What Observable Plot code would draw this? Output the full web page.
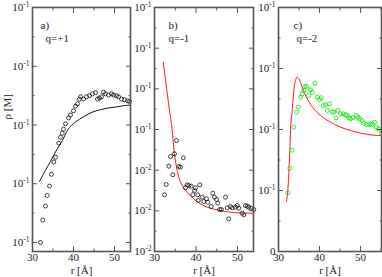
<!DOCTYPE html>
<html><head><meta charset="utf-8">
<script src="https://cdn.jsdelivr.net/npm/d3@7"></script>
<script src="https://cdn.jsdelivr.net/npm/@observablehq/plot@0.6"></script>
<style>
body{margin:0;background:#fff;}
#chart{position:relative;width:382px;height:277px;overflow:hidden;background:#fff;}
#chart svg{position:absolute;top:0;overflow:visible;}
#chart svg, #chart svg text, #chart svg g{font-family:"Liberation Serif","Times New Roman",serif !important;}
</style></head><body><div id="chart"></div>
<script>
// ---------- Panel a) q=+1 ----------
const aPtsR = [31.95,32.51,33.17,33.59,34.15,34.63,35.2,35.61,36.41,36.83,37.24,37.56,38.05,38.78,39.27,40.0,40.49,40.98,41.46,41.71,42.44,43.17,43.9,44.63,45.37,45.85,46.34,46.83,47.32,47.8,48.54,49.27,49.76,50.49,50.98,51.71,52.44,53.17,53.66];
const aPtsRho = [0.100,0.138,0.162,0.180,0.196,0.216,0.237,0.245,0.269,0.279,0.286,0.293,0.302,0.312,0.317,0.324,0.332,0.336,0.344,0.348,0.344,0.348,0.350,0.353,0.355,0.344,0.346,0.348,0.356,0.353,0.351,0.353,0.351,0.350,0.348,0.344,0.343,0.341,0.340];
const aLineR = [31.71,33.17,34.39,35.61,37.32,38.54,40.49,42.44,44.63,46.59,48.54,50.73,52.44,53.9];
const aLineRho = [0.204,0.223,0.238,0.254,0.274,0.291,0.305,0.314,0.322,0.326,0.329,0.331,0.333,0.334];
const aYTicks = [0.1,0.2,0.3,0.4,0.5];
const aYMinor = [0.15,0.25,0.35,0.45];
const aYLabels = ["10^-1","10^-1","10^-1","10^-1","10^-1"];

// ---------- Panel b) q=-1 (units of 10^-2 M) ----------
const bPtsR = [32.41,32.82,33.45,33.86,34.41,34.82,35.30,35.86,36.27,36.92,37.47,37.88,38.27,38.84,39.23,39.64,39.88,40.43,40.92,40.53,41.49,41.88,42.53,42.84,43.66,44.05,44.46,44.94,45.25,45.73,46.14,47.11,47.52,47.90,48.31,48.72,49.52,49.93,50.31,51.13,51.52,51.93,52.34,52.72,53.30,53.93];
const bPtsRho = [1.394,1.647,2.097,2.336,1.886,2.402,2.729,2.090,2.073,2.304,1.566,1.640,1.623,1.606,1.394,1.500,1.566,1.394,1.640,1.254,1.335,1.229,1.296,1.212,1.106,1.433,1.335,1.279,1.188,1.033,1.033,1.335,1.075,0.804,1.106,1.075,1.089,1.131,1.065,0.942,0.902,1.131,1.114,1.089,1.065,1.033];
const bLineR = [32.10,32.9,33.6,34.27,34.7,35.30,35.86,36.67,37.88,39.47,41.08,42.70,45.11,47.52,49.93,52.34,53.86];
const bLineRho = [4.655,4.02,3.48,2.975,2.483,2.073,1.827,1.623,1.458,1.296,1.173,1.089,1.025,0.976,0.952,0.942,0.940];
const bYTicks = [0,1,2,3,4,5,6];
const bYMinor = [0.5,1.5,2.5,3.5,4.5,5.5];
const bYLabels = ["10^-2","10^-2","10^-2","10^-1","10^-1","10^-1","10^-1"];

// ---------- Panel c) q=-2 (units of 10^-1 M) ----------
const cPtsR = [32.27,32.76,33.24,33.73,34.39,34.80,35.37,35.78,36.17,36.41,36.83,37.39,37.80,38.22,38.85,39.44,40.0,40.41,40.90,41.46,41.88,42.44,43.10,43.49,44.07,44.46,45.12,45.78,46.34,46.76,47.15,47.56,48.12,48.95,49.34,49.83,50.41,50.80,51.39,52.02,52.44,52.85,53.41,53.83,54.32,55.05];
const cPtsRho = [0.962,1.366,1.661,2.038,2.284,2.366,2.530,2.585,2.639,2.705,2.705,2.557,2.651,2.611,2.759,2.530,2.492,2.520,2.393,2.405,2.311,2.421,2.295,2.284,2.192,2.311,2.257,2.257,2.241,2.230,2.192,2.175,2.192,2.230,2.202,2.175,2.148,2.103,2.082,2.082,2.093,2.082,2.120,2.038,2.011,1.939];
const cLineR = [31.95,32.27,32.51,32.76,32.93,33.34,33.73,34.15,34.56,34.95,35.78,37.0,38.61,40.24,42.68,45.12,47.56,50.80,54.07,55.1];
const cLineRho = [0.820,1.000,1.274,1.656,1.984,2.311,2.639,2.803,2.857,2.831,2.693,2.503,2.339,2.230,2.120,2.038,1.984,1.930,1.902,1.900];
const cYTicks = [0,1,2,3,4];
const cYMinor = [0.5,1.5,2.5,3.5];
const cYLabels = ["0","10^-1","10^-1","10^-1","10^-1"];

const xTicks = [30,40,50];
const xMinor = [35,45,55];
const xTitle = "r [Å]";
const yTitle = "ρ [M]";

const zip = (R, V) => R.map((r, i) => ({r, rho: V[i]}));
const FONT = "Liberation Serif";
const FRAME = "#555";
const INK = "#222";

function panel(o) {
  const lab = new Map(o.yTicks.map((t, i) => [t, o.yLabels[i]]));
  const blank = () => "";
  const xm = xMinor.filter(d => d <= o.xDomain[1]);
  const marks = [
    Plot.line(zip(o.lineR, o.lineRho), {x: "r", y: "rho", stroke: o.lineColor, strokeWidth: 1, curve: "monotone-x"}),
    Plot.dot(zip(o.ptsR, o.ptsRho), {x: "r", y: "rho", r: 2, stroke: o.ptColor, strokeWidth: 0.8, fill: "none"}),
    Plot.axisY(o.yTicks, {anchor: "left", tickSize: -5, tickFormat: blank, stroke: FRAME, label: null}),
    Plot.axisY(o.yMinor, {anchor: "left", tickSize: -2.5, tickFormat: blank, stroke: FRAME, label: null}),
    Plot.axisY(o.yTicks, {anchor: "right", tickSize: -5, tickFormat: blank, stroke: FRAME, label: null}),
    Plot.axisY(o.yMinor, {anchor: "right", tickSize: -2.5, tickFormat: blank, stroke: FRAME, label: null}),
    Plot.axisX(xTicks, {anchor: "bottom", tickSize: -5, tickFormat: blank, stroke: FRAME, label: null}),
    Plot.axisX(xm, {anchor: "bottom", tickSize: -2.5, tickFormat: blank, stroke: FRAME, label: null}),
    Plot.axisX(xTicks, {anchor: "top", tickSize: -5, tickFormat: blank, stroke: FRAME, label: null}),
    Plot.axisX(xm, {anchor: "top", tickSize: -2.5, tickFormat: blank, stroke: FRAME, label: null}),
    Plot.axisY(o.yTicks, {anchor: "left", tickSize: 0, tickPadding: 3, tickFormat: d => lab.get(d), fontSize: 11, fontFamily: FONT, fill: INK, label: null}),
    Plot.axisX(xTicks, {anchor: "bottom", tickSize: 0, tickPadding: 2, tickFormat: d => String(d), fontSize: 11, fontFamily: FONT, fill: INK, label: null}),
    Plot.frame({stroke: FRAME, strokeWidth: 1.6}),
    Plot.text([o.tag], {frameAnchor: "top-left", dx: o.tagDx, dy: 14, textAnchor: "start", fontSize: 11, fontFamily: FONT, fill: INK}),
    Plot.text([o.q], {frameAnchor: "top-left", dx: o.qDx, dy: 27, textAnchor: "start", fontSize: 11, fontFamily: FONT, fill: INK}),
    Plot.text([xTitle], {frameAnchor: "bottom", dy: 22, fontSize: 11, fontFamily: FONT, fill: INK})
  ];
  if (o.yTitle) marks.push(Plot.text([o.yTitle], {frameAnchor: "left", dx: -25, dy: -10, rotate: -90, fontSize: 11, fontFamily: FONT, fill: INK}));
  const svg = Plot.plot({
    width: o.width, height: 277,
    marginLeft: o.mL, marginRight: o.mR, marginTop: 7, marginBottom: 26,
    style: {background: "transparent", fontFamily: FONT, overflow: "visible"},
    x: {domain: o.xDomain, label: null},
    y: {domain: o.yDomain, label: null},
    marks
  });
  svg.style.left = o.left + "px";
  // superscript exponents in tick labels
  const ns = "http://www.w3.org/2000/svg";
  svg.querySelectorAll("text").forEach(t => {
    const m = t.textContent.match(/^(\d+)\^(.+)$/);
    if (m) {
      t.textContent = m[1];
      const ts = document.createElementNS(ns, "tspan");
      ts.setAttribute("dy", "-4");
      ts.setAttribute("font-size", "7.5");
      ts.textContent = m[2];
      t.appendChild(ts);
    }
  });
  return svg;
}

const chart = document.getElementById("chart");
chart.appendChild(panel({left: 0, width: 135, mL: 32, mR: 5, xDomain: [30, 53.9], yDomain: [0.0846, 0.5],
  yTicks: aYTicks, yMinor: aYMinor, yLabels: aYLabels, ptsR: aPtsR, ptsRho: aPtsRho, lineR: aLineR, lineRho: aLineRho,
  ptColor: "#111", lineColor: "#111", tag: "a)", q: "q=+1", tagDx: 8, qDx: 13, yTitle}));
chart.appendChild(panel({left: 125, width: 128, mL: 29, mR: 0, xDomain: [30, 53.86], yDomain: [0, 6],
  yTicks: bYTicks, yMinor: bYMinor, yLabels: bYLabels, ptsR: bPtsR, ptsRho: bPtsRho, lineR: bLineR, lineRho: bLineRho,
  ptColor: "#111", lineColor: "#ff1a1a", tag: "b)", q: "q=-1", tagDx: 14, qDx: 14}));
chart.appendChild(panel({left: 250, width: 131, mL: 28, mR: 0, xDomain: [30, 55.1], yDomain: [0, 4],
  yTicks: cYTicks, yMinor: cYMinor, yLabels: cYLabels, ptsR: cPtsR, ptsRho: cPtsRho, lineR: cLineR, lineRho: cLineRho,
  ptColor: "#00e600", lineColor: "#ff1a1a", tag: "c)", q: "q=-2", tagDx: 15, qDx: 18}));
</script></body></html>
